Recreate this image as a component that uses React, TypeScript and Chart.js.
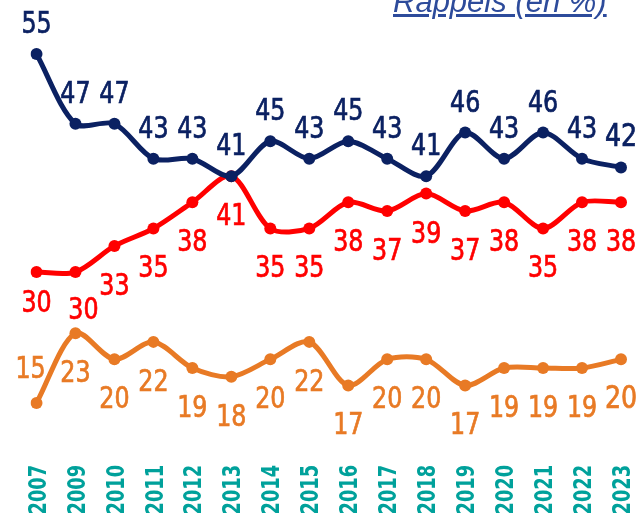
import React, { useEffect, useRef } from "react";
import { Chart, registerables } from "chart.js";

Chart.register(...registerables);

const years = ["2007", "2009", "2010", "2011", "2012", "2013", "2014", "2015", "2016", "2017", "2018", "2019", "2020", "2021", "2022", "2023"];
const seriesNavy = [55, 47, 47, 43, 43, 41, 45, 43, 45, 43, 41, 46, 43, 46, 43, 42];
const seriesRed = [30, 30, 33, 35, 38, 41, 35, 35, 38, 37, 39, 37, 38, 35, 38, 38];
const seriesOrange = [15, 23, 20, 22, 19, 18, 20, 22, 17, 20, 20, 17, 19, 19, 19, 20];

const titleText = "Rappels (en %)";

const NAVY = "#0b2162";
const RED = "#ff0000";
const ORANGE = "#e87a25";
const TEAL = "#00a19b";
const FONT = "'DejaVu Sans Condensed', 'Liberation Sans Narrow', sans-serif";

const labelPlugin = {
  id: "valueLabels",
  afterDatasetsDraw(chart: any) {
    const ctx = chart.ctx;
    chart.data.datasets.forEach((ds: any, i: number) => {
      const meta = chart.getDatasetMeta(i);
      const cfg = ds.labelCfg;
      const last = meta.data.length - 1;
      meta.data.forEach((pt: any, j: number) => {
        const ov = (cfg.overrides && cfg.overrides[j]) || {};
        const dx = ov.dx ?? 0;
        const dy = ov.dy ?? cfg.dy;
        const size = j === last ? cfg.lastSize : cfg.size;
        ctx.save();
        ctx.translate(pt.x + dx, pt.y + dy);
        ctx.scale(0.88, 1);
        ctx.font = `${size}px ${FONT}`;
        ctx.fillStyle = cfg.color;
        ctx.strokeStyle = cfg.color;
        ctx.lineWidth = 0.7;
        ctx.textAlign = "center";
        ctx.textBaseline = "alphabetic";
        ctx.fillText(String(ds.data[j]), 0, 0);
        ctx.strokeText(String(ds.data[j]), 0, 0);
        ctx.restore();
      });
    });
  },
};

// Draws the x-axis tick labels of the category scale, rotated and narrowed.
const xTickPlugin = {
  id: "xTicksNarrow",
  afterDraw(chart: any) {
    const ctx = chart.ctx;
    const xs = chart.scales.x;
    const size = 25;
    xs.ticks.forEach((t: any, i: number) => {
      const label = String(chart.data.labels[t.value ?? i]);
      const x = xs.getPixelForTick(i);
      const y = chart.chartArea.bottom + 1;
      ctx.save();
      ctx.translate(x + size * 0.364, y);
      ctx.rotate(-Math.PI / 2);
      ctx.scale(0.79, 1);
      ctx.font = `bold ${size}px ${FONT}`;
      ctx.fillStyle = TEAL;
      ctx.textAlign = "right";
      ctx.textBaseline = "alphabetic";
      ctx.fillText(label, 0, 0);
      ctx.restore();
    });
  },
};

export default function App() {
  const canvasRef = useRef<HTMLCanvasElement | null>(null);

  useEffect(() => {
    if (!canvasRef.current) return;
    const mk = (data: number[], color: string, labelCfg: any) => ({
      data,
      borderColor: color,
      backgroundColor: color,
      pointBackgroundColor: color,
      pointBorderColor: color,
      borderWidth: 5,
      pointRadius: 6,
      pointBorderWidth: 0,
      tension: 0.3,
      labelCfg,
    });
    const chart = new Chart(canvasRef.current, {
      type: "line",
      data: {
        labels: years,
        datasets: [
          mk(seriesNavy, NAVY, { color: NAVY, dy: -21, size: 30, lastSize: 32 }),
          mk(seriesRed, RED, { color: RED, dy: 49, size: 30, lastSize: 30, overrides: { 0: { dy: 40 }, 1: { dy: 47, dx: 8 } } }),
          mk(seriesOrange, ORANGE, { color: ORANGE, dy: 49, size: 30, lastSize: 32, overrides: { 0: { dy: -25, dx: -6 } } }),
        ] as any,
      },
      options: {
        responsive: false,
        animation: false,
        devicePixelRatio: 1,
        layout: { padding: { top: 10.4, left: 36.5, right: 22, bottom: 0 } },
        plugins: { legend: { display: false }, tooltip: { enabled: false } },
        scales: {
          x: {
            grid: { display: false, drawTicks: false },
            border: { display: false },
            afterFit: (scale: any) => {
              scale.paddingLeft = 0;
              scale.paddingRight = 0;
              scale.height = 51;
            },
            ticks: { display: false, autoSkip: false },
          },
          y: { display: false, min: 8, max: 60 },
        },
      },
      plugins: [labelPlugin, xTickPlugin],
    });
    return () => chart.destroy();
  }, []);

  return (
    <div style={{ position: "absolute", left: 0, top: 0, width: 643, height: 515, overflow: "hidden", background: "#ffffff" }}>
      <canvas ref={canvasRef} width={643} height={515} style={{ position: "absolute", left: 0, top: 0 }} />
      <div
        style={{
          position: "absolute",
          left: 393,
          top: -14,
          fontFamily: "'Liberation Sans', Arial, sans-serif",
          fontStyle: "italic",
          fontSize: 31,
          lineHeight: "31px",
          color: "#2d4b9b",
          textDecoration: "underline",
          whiteSpace: "nowrap",
        }}
      >
        {titleText}
      </div>
    </div>
  );
}
